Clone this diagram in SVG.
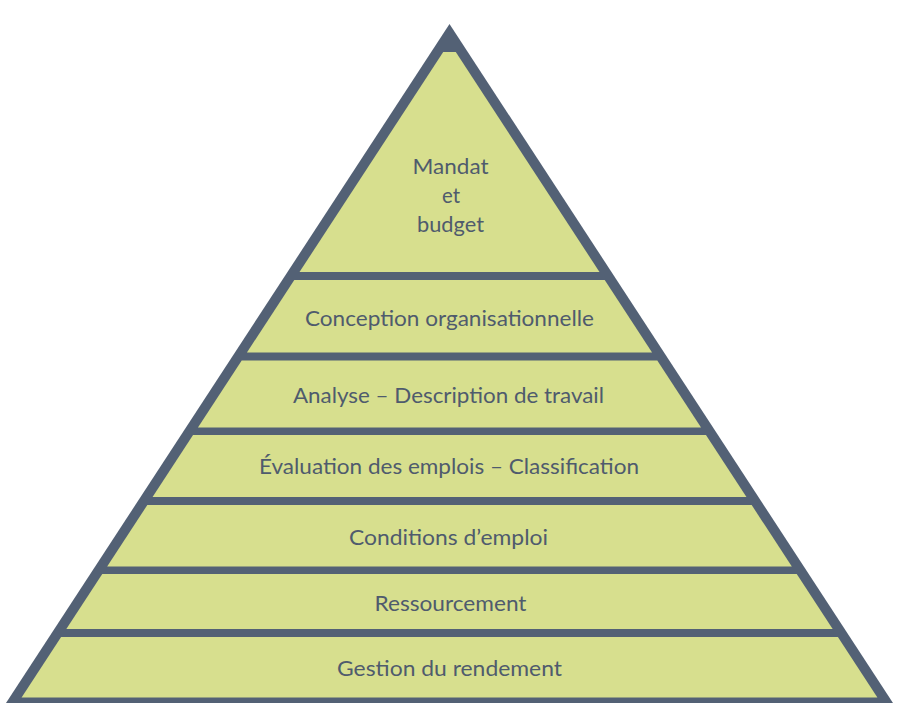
<svg xmlns="http://www.w3.org/2000/svg" width="898" height="718" viewBox="0 0 898 718">
  <style>
    .layer { fill: #d7df8e; }
    .lbl { font-family: Lato, "Open Sans", "Liberation Sans", sans-serif; font-size: 22px; fill: #4f5b6d; text-anchor: middle; }
  </style>
  <rect width="898" height="718" fill="#ffffff"/>
  <g id="frame">
    <polygon points="449.5,24 893,703 6,703" fill="#536175"/>
  </g>
  <g id="layer1">
    <polygon class="layer" points="443.21,52 455.79,52 599.49,272 299.51,272"/>
    <text class="lbl" x="450.5" y="174" textLength="76" lengthAdjust="spacingAndGlyphs">Mandat</text>
    <text class="lbl" x="451" y="203" textLength="18" lengthAdjust="spacingAndGlyphs">et</text>
    <text class="lbl" x="450.5" y="232" textLength="67" lengthAdjust="spacingAndGlyphs">budget</text>
  </g>
  <g id="layer2">
    <polygon class="layer" points="294.29,280 604.71,280 652.07,352.5 246.93,352.5"/>
    <text class="lbl" x="449.5" y="326" textLength="289" lengthAdjust="spacingAndGlyphs">Conception organisationnelle</text>
  </g>
  <g id="layer3">
    <polygon class="layer" points="241.71,360.5 657.29,360.5 701.05,427.5 197.95,427.5"/>
    <text class="lbl" x="448.5" y="402.5" textLength="311" lengthAdjust="spacingAndGlyphs">Analyse – Description de travail</text>
  </g>
  <g id="layer4">
    <polygon class="layer" points="193.05,435 705.95,435 746.45,497 152.55,497"/>
    <text class="lbl" x="449" y="474" textLength="380" lengthAdjust="spacingAndGlyphs">Évaluation des emplois – Classification</text>
  </g>
  <g id="layer5">
    <polygon class="layer" points="147.33,505 751.67,505 791.84,566.5 107.16,566.5"/>
    <text class="lbl" x="448.5" y="545" textLength="199" lengthAdjust="spacingAndGlyphs">Conditions d’emploi</text>
  </g>
  <g id="layer6">
    <polygon class="layer" points="102.26,574 796.74,574 832.67,629 66.33,629"/>
    <text class="lbl" x="450.5" y="610.5" textLength="152" lengthAdjust="spacingAndGlyphs">Ressourcement</text>
  </g>
  <g id="layer7">
    <polygon class="layer" points="61.11,637 837.89,637 877.41,697.5 21.59,697.5"/>
    <text class="lbl" x="449.5" y="675.5" textLength="225" lengthAdjust="spacingAndGlyphs">Gestion du rendement</text>
  </g>
</svg>
